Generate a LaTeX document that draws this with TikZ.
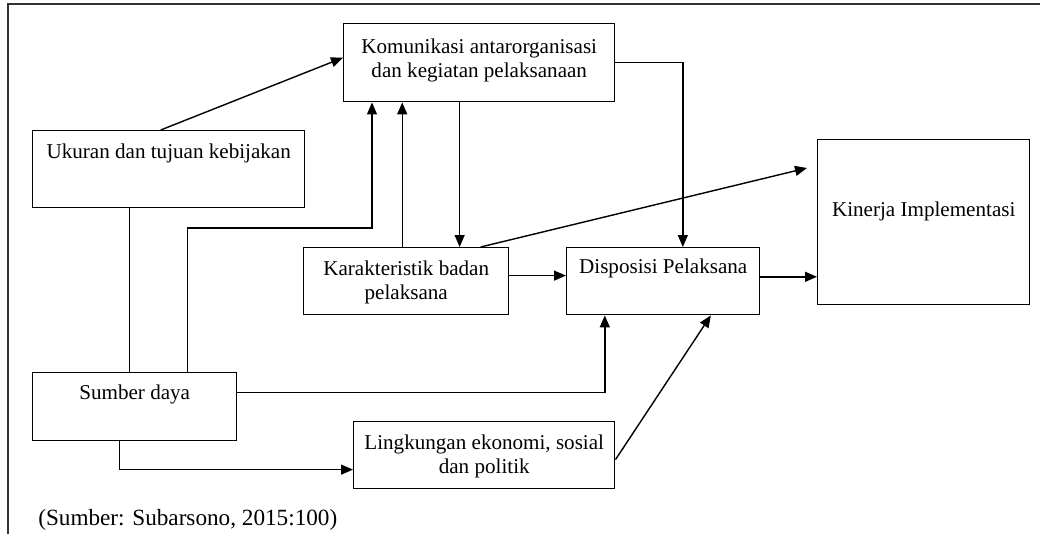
\documentclass[tikz,border=0pt]{standalone}
\usepackage{fontspec}
\setmainfont{Liberation Serif}
\usepackage{tikz}
\usetikzlibrary{arrows.meta,calc,positioning}

\begin{document}
\begin{tikzpicture}[x=0.025cm, y=-0.025cm, >={Triangle[length=3mm, width=2.5mm]},
    every node/.style={font=\fontsize{15}{17.5}\selectfont, align=center},
    kotak/.style={draw, line width=1pt, anchor=north west, inner xsep=0pt, inner ysep=0pt, minimum height=0pt},
    panah/.style={->, line width=1pt}]
    \useasboundingbox (0,0) rectangle (1040,534);
    \draw[line width=1.3pt, black!80] (8,534) -- (8,4) -- (1040,4);

    \node[kotak, minimum width=6.775cm, text height=1.35cm, text depth=0.6cm] (kom) at (343,23) {Komunikasi antarorganisasi\\ dan kegiatan pelaksanaan};
    \node[kotak, minimum width=6.8cm, text height=0.7cm, text depth=1.225cm] (uk) at (32,130) {Ukuran dan tujuan kebijakan};
    \node[kotak, minimum width=5.125cm, text height=1.3cm, text depth=0.375cm] (kar) at (303,247) {Karakteristik badan\\ pelaksana};
    \node[kotak, minimum width=4.825cm, text height=0.65cm, text depth=1.025cm] (dis) at (566,247) {Disposisi Pelaksana};
    \node[kotak, minimum width=5.3cm, text height=1.925cm, text depth=2.2cm] (kin) at (817,139) {Kinerja Implementasi};
    \node[kotak, minimum width=5.1cm, text height=0.675cm, text depth=1.025cm] (sum) at (32,372) {Sumber daya};
    \node[kotak, minimum width=6.525cm, text height=1.3cm, text depth=0.375cm] (lin) at (353,421) {Lingkungan ekonomi, sosial\\ dan politik};
    \node[anchor=base west, inner sep=0pt, font=\fontsize{16.5}{19}\selectfont] (sumber) at (38,525) {(Sumber: Subarsono, 2015:100)};

    \coordinate (tekuk) at (372,228);
    \coordinate (ujung) at (807,168);

    \draw[panah] ([xshift=-0.2cm]uk.north) -- ([yshift=0.125cm]kom.west);
    \draw[line width=1pt] ([xshift=-0.975cm]uk.south) -- ([xshift=-0.975cm]uk.south |- sum.north);
    \draw[panah] ([xshift=1.325cm]sum.north) |- (tekuk) -- (tekuk |- kom.south);
    \draw[panah] ([xshift=-0.1cm]kar.north) -- ([xshift=-0.1cm]kar.north |- kom.south);
    \draw[panah] ([xshift=-0.49cm]kom.south) -- ([xshift=-0.49cm]kom.south |- kar.north);
    \draw[panah] (kom.east) -| ([xshift=0.49cm]dis.north);
    \draw[panah] ([xshift=1.86cm]kar.north) -- (ujung);
    \draw[panah] ([yshift=0.14cm]kar.east) -- ([yshift=0.14cm]kar.east -| dis.west);
    \draw[panah] ([yshift=0.11cm]dis.east) -- ([yshift=0.11cm]dis.east -| kin.west);
    \draw[panah] ([yshift=0.35cm]sum.east) -| ([xshift=-1.46cm]dis.south);
    \draw[panah] ([xshift=-0.375cm]sum.south) |- ([yshift=-0.36cm]lin.west);
    \draw[panah] ([yshift=-0.11cm]lin.east) -- ([xshift=1.19cm]dis.south);
\end{tikzpicture}
\end{document}
